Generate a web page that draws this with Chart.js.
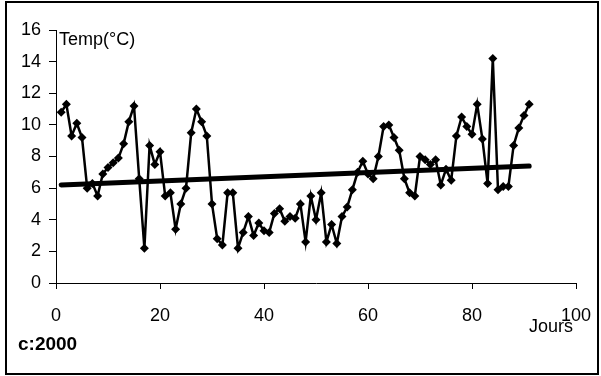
<!DOCTYPE html>
<html>
<head>
<meta charset="utf-8">
<script src="https://cdn.jsdelivr.net/npm/chart.js@4"></script>
<style>
  html, body { margin: 0; padding: 0; background: #fff; }
  #wrap { position: relative; width: 601px; height: 376px; }
</style>
</head>
<body>
<div id="wrap"><canvas id="myChart" width="601" height="376"></canvas></div>
<script>
// daily temperatures, days 1..91
const days = [];
for (let i = 1; i <= 91; i++) days.push(i);

const temps = [
  10.8, 11.3, 9.3, 10.1, 9.2, 6.0, 6.3, 5.5, 6.9, 7.3,
  7.6, 7.9, 8.8, 10.2, 11.2, 6.6, 2.2, 8.7, 7.5, 8.3,
  5.5, 5.7, 3.4, 5.0, 6.0, 9.5, 11.0, 10.2, 9.3, 5.0,
  2.8, 2.4, 5.7, 5.7, 2.2, 3.2, 4.2, 3.0, 3.8, 3.3,
  3.2, 4.4, 4.7, 3.9, 4.2, 4.1, 5.0, 2.6, 5.5, 4.0,
  5.7, 2.6, 3.7, 2.5, 4.2, 4.8, 5.9, 7.0, 7.7, 6.9,
  6.6, 8.0, 9.9, 10.0, 9.2, 8.4, 6.6, 5.7, 5.5, 8.0,
  7.8, 7.5, 7.8, 6.2, 7.2, 6.5, 9.3, 10.5, 9.9, 9.4,
  11.3, 9.1, 6.3, 14.2, 5.9, 6.1, 6.1, 8.7, 9.8, 10.6,
  11.3
];

// trend line end points
const trendDays = [1, 91];
const trendTemps = [6.2, 7.4];

const xTicks = [0, 20, 40, 60, 80, 100];
const yTicks = [0, 2, 4, 6, 8, 10, 12, 14, 16];

const ctx = document.getElementById('myChart');

const extras = {
  id: 'extras',
  afterDraw(chart) {
    const c = chart.ctx;
    c.save();
    c.fillStyle = '#000';
    c.textBaseline = 'alphabetic';
    c.font = '18px "Liberation Sans", Arial, sans-serif';
    c.textAlign = 'left';
    c.fillText('Temp(°C)', 59, 45);
    c.textAlign = 'right';
    c.fillText('Jours', 573, 332);
    c.textAlign = 'left';
    c.font = 'bold 19px "Liberation Sans", Arial, sans-serif';
    c.fillText('c:2000', 18, 350);
    c.strokeStyle = '#000';
    c.lineWidth = 2;
    c.strokeRect(6, 2, 592, 372);
    c.restore();
  }
};

const tickFont = { family: '"Liberation Sans", Arial', size: 18 };

const chart = new Chart(ctx, {
  type: 'scatter',
  data: {
    datasets: [
      {
        data: days.map((d, i) => ({ x: d, y: temps[i] })),
        showLine: true,
        borderColor: '#000',
        backgroundColor: '#000',
        borderWidth: 2.5,
        pointStyle: 'rectRot',
        pointRadius: 4.5,
        pointBorderWidth: 0
      },
      {
        data: trendDays.map((d, i) => ({ x: d, y: trendTemps[i] })),
        showLine: true,
        borderColor: '#000',
        borderWidth: 5,
        pointRadius: 0,
        borderCapStyle: 'round'
      }
    ]
  },
  options: {
    responsive: false,
    animation: false,
    plugins: { legend: { display: false }, tooltip: { enabled: false } },
    layout: { padding: { left: 0, top: 30, right: 25, bottom: 0 } },
    scales: {
      x: {
        type: 'linear',
        min: 0, max: 100,
        afterBuildTicks: (s) => { s.ticks = xTicks.map(v => ({ value: v })); },
        afterFit: (s) => { s.height = 93; s.paddingLeft = 0; s.paddingRight = 0; },
        border: { display: true, color: '#000', width: 1 },
        grid: { drawOnChartArea: false, drawTicks: true, tickLength: 6, color: '#000' },
        ticks: { color: '#000', padding: 16, font: tickFont }
      },
      y: {
        min: 0, max: 16,
        afterBuildTicks: (s) => { s.ticks = yTicks.map(v => ({ value: v })); },
        afterFit: (s) => { s.width = 56; s.paddingTop = 0; s.paddingBottom = 0; },
        border: { display: true, color: '#000', width: 1 },
        grid: { drawOnChartArea: false, drawTicks: true, tickLength: 7, color: '#000' },
        ticks: { color: '#000', padding: 8, font: tickFont }
      }
    }
  },
  plugins: [extras]
});
</script>
</body>
</html>
